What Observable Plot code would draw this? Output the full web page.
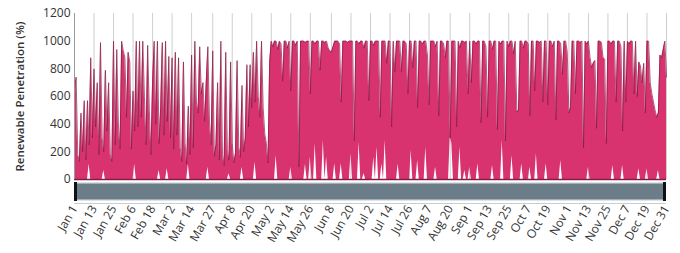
<!DOCTYPE html>
<html><head><meta charset="utf-8">
<script src="https://cdn.jsdelivr.net/npm/d3@7"></script>
<script src="https://cdn.jsdelivr.net/npm/@observablehq/plot@0.6"></script>
<style>body{margin:0;background:#fff} svg{display:block}</style>
</head><body><div id="chart"></div><script>
// Daily renewable penetration (%) for 2019
const jan = [650,740,180,130,480,200,570,140,570,250,880,300,800,380,700,180,990,300,200,790,350,700,180,130,1000,250,940,400,220,1000,930];
const feb = [880,450,920,850,220,640,350,1000,380,1000,450,1000,600,250,970,500,180,700,1000,400,1000,260,520,990,320,1000,420,890];
const mar = [300,880,220,920,320,880,230,130,850,260,110,530,180,900,230,1000,560,480,960,620,700,420,700,960,420,250,930,170,250,700,140];
const apr = [1000,180,100,920,210,140,850,260,120,190,860,240,160,680,200,300,830,380,830,520,920,560,1000,600,450,1000,520,330,260,120];
const may = [850,1000,960,1000,1000,940,1000,980,710,1000,1000,950,1000,640,1000,1000,970,1000,90,1000,1000,1000,990,1000,1000,620,1000,1000,980,1000,1000];
const jun = [790,1000,1000,990,1000,950,930,920,960,1000,1000,1000,980,560,1000,1000,1000,990,1000,1000,1000,280,1000,1000,980,1000,1000,950,1000,1000];
const jul = [570,1000,1000,970,1000,1000,1000,450,1000,1000,1000,840,1000,1000,380,1000,780,1000,1000,1000,780,1000,1000,980,620,1000,1000,810,1000,1000,520];
const aug = [1000,1000,980,1000,1000,900,540,1000,1000,1000,960,1000,460,1000,1000,980,880,1000,1000,300,1000,1000,1000,380,1000,950,1000,1000,990,1000,620];
const sep = [1000,700,1000,1000,980,1000,1000,410,1000,1000,960,450,1000,1000,940,1000,1000,360,1000,980,1000,1000,280,1000,960,1000,1000,910,1000,490];
const oct = [500,1000,1000,950,1000,1000,980,460,1000,1000,640,1000,1000,990,1000,560,1000,1000,540,1000,1000,960,1000,430,1000,1000,980,760,1000,1000,920];
const nov = [480,520,1000,1000,620,1000,1000,990,1000,230,1000,980,1000,880,810,840,860,370,1000,1000,990,880,870,260,1000,1000,980,1000,1000,560];
const dec = [1000,1000,960,350,1000,560,1000,980,1000,1000,620,1000,600,850,820,700,840,480,1000,1000,700,620,560,500,450,480,900,880,940,1000,740];

// Days (day of year, 0 = Jan 1) where the band does not reach 0, and its floor
const floorDay = [9,18,37,52,57,70,82,95,103,111,124,133,142,145,148,153,155,160,164,170,175,178,184,186,189,191,199,207,211,216,222,231,232,237,240,243,248,257,263,269,275,280,284,290,299,316,331,337,347,352,359];
const floorVal = [110,65,110,65,77,110,89,41,89,125,173,89,110,160,258,282,160,113,113,186,270,41,160,234,113,282,110,210,137,234,89,306,260,234,65,89,113,101,282,173,113,89,186,113,137,89,101,101,77,77,65];

const tickLabels = ["Jan 1","Jan 13","Jan 25","Feb 6","Feb 18","Mar 2","Mar 14","Mar 27","Apr 8","Apr 20","May 2","May 14","May 26","Jun 8","Jun 20","Jul 2","Jul 14","Jul 26","Aug 7","Aug 20","Sep 1","Sep 13","Sep 25","Oct 7","Oct 19","Nov 1","Nov 13","Nov 25","Dec 7","Dec 19","Dec 31"];
const yTicks = [0,200,400,600,800,1000,1200];
const yTitle = "Renewable Penetration (%)";

const start = new Date(Date.UTC(2019,0,1));
const end = new Date(Date.UTC(2019,11,31));
const values = [jan,feb,mar,apr,may,jun,jul,aug,sep,oct,nov,dec].flat();
const floorMap = new Map(floorDay.map((d,i)=>[d, floorVal[i]]));
const data = values.map((v,i)=>({date: d3.utcDay.offset(start,i), v, lo: floorMap.get(i) ?? 0}));
const parse = d3.utcParse("%b %d %Y");
const tickDates = tickLabels.map(s => parse(s + " 2019"));
const labelOf = new Map(tickDates.map((d,i)=>[+d, tickLabels[i]]));

const pink = "#d8336f", dark = "#861c44";

const chart = Plot.plot({
  width: 680, height: 253,
  marginLeft: 74, marginRight: 14, marginTop: 13, marginBottom: 74,
  style: {fontFamily: "'Open Sans', sans-serif", fontSize: "12px", color: "#333", background: "#fff"},
  x: {type: "utc", domain: [start, end]},
  y: {domain: [0, 1200]},
  marks: [
    Plot.gridX(tickDates, {stroke: "#cfcfcf", strokeOpacity: 1}),
    Plot.areaY(data, {x: "date", y1: "lo", y2: "v", curve: "linear", fill: pink}),
    Plot.lineY(data, {x: "date", y: "v", curve: "linear", stroke: dark, strokeWidth: 0.7}),
    Plot.ruleY([0], {stroke: dark, strokeWidth: 1.5}),
    Plot.ruleX([start], {stroke: "#9a9a9a"}),
    Plot.axisY(yTicks, {tickSize: 0, tickPadding: 4, tickFormat: d => String(d), label: null, fontSize: 12}),
    Plot.axisX(tickDates, {tickSize: 0, tickPadding: 27, tickRotate: -60, tickFormat: d => labelOf.get(+d), label: null, fontSize: 12}),
    Plot.text([yTitle], {frameAnchor: "left", dx: -54, rotate: -90, textAnchor: "middle", fontSize: 11.5, fontWeight: 600, fill: "#333"})
  ]
});

// range-slider strip under the chart
const sx = chart.scale("x");
const x0 = sx.apply(start), x1 = sx.apply(end);
const g = d3.select(chart).append("g");
g.append("rect").attr("x", x0).attr("y", 182).attr("width", x1 - x0).attr("height", 19).attr("fill", "#dfe3e6");
g.append("rect").attr("x", x0).attr("y", 183.5).attr("width", x1 - x0).attr("height", 16).attr("fill", "#6c7d8a");
g.append("rect").attr("x", x0).attr("y", 182).attr("width", 3).attr("height", 19).attr("fill", "#111");
g.append("rect").attr("x", x1 - 3).attr("y", 182).attr("width", 3).attr("height", 19).attr("fill", "#111");
g.append("line").attr("x1", x0).attr("x2", x1).attr("y1", 203.5).attr("y2", 203.5).attr("stroke", "#c9ced2");
document.getElementById("chart").append(chart);
</script></body></html>
